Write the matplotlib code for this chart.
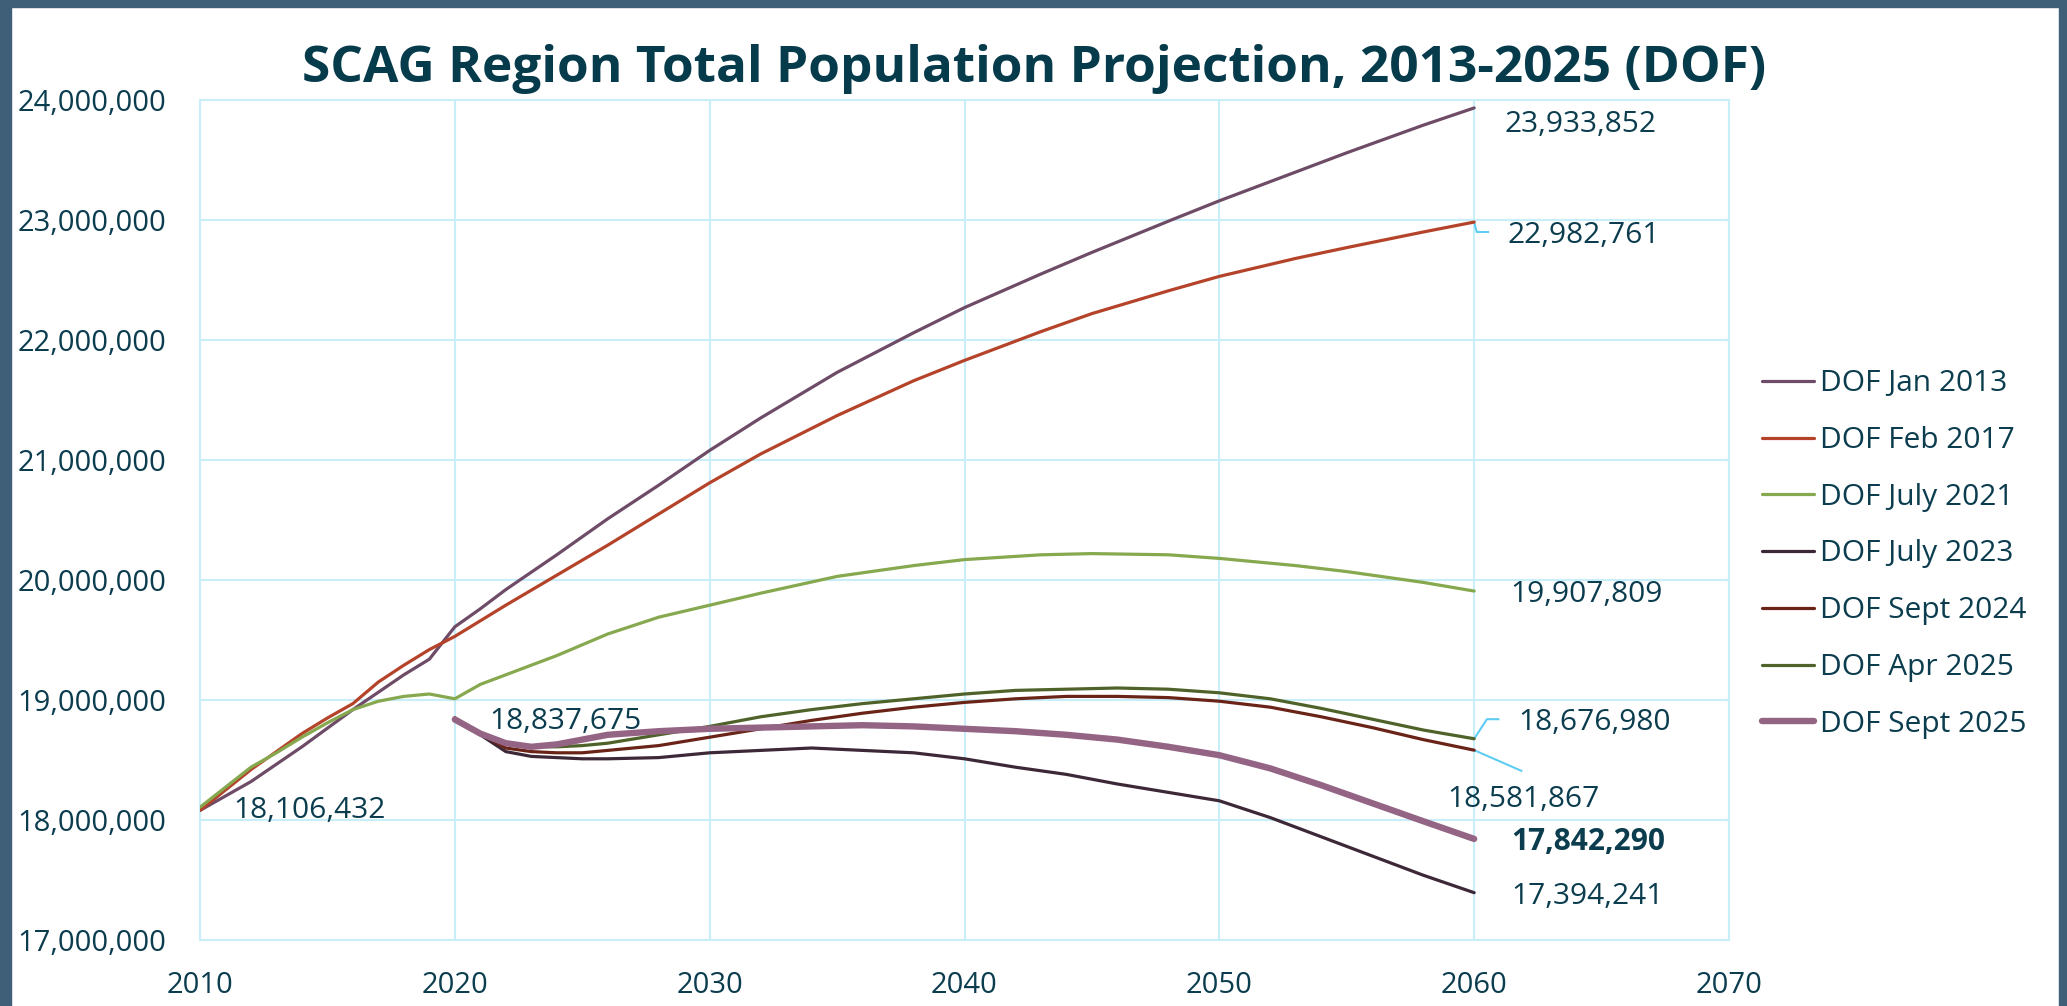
import numpy as np
import matplotlib.pyplot as plt
from matplotlib.patches import Rectangle
from matplotlib.ticker import FuncFormatter

plt.rcParams['font.family'] = ['Open Sans', 'DejaVu Sans']

TEXT = '#0B3D4F'
GRID = '#C8EEFA'
LEADER = '#5FCDF2'
BORDER = '#3F5F78'

# values in millions
years_jan_2013 = [2010, 2012, 2014, 2016, 2018, 2019, 2020, 2021, 2022, 2024, 2026, 2028,
                  2030, 2032, 2035, 2038, 2040, 2043, 2045, 2048, 2050, 2053, 2055, 2058, 2060]
jan_2013 = [18.08, 18.32, 18.61, 18.92, 19.21, 19.34, 19.61, 19.76, 19.92, 20.21, 20.51, 20.79,
            21.08, 21.35, 21.73, 22.06, 22.27, 22.55, 22.73, 22.99, 23.16, 23.40, 23.56, 23.79, 23.933852]

years_feb_2017 = [2010, 2012, 2013, 2014, 2015, 2016, 2017, 2018, 2019, 2020, 2022, 2024,
                  2026, 2028, 2030, 2032, 2035, 2038, 2040, 2043, 2045, 2048, 2050, 2053, 2055,
                  2058, 2060]
feb_2017 = [18.08, 18.42, 18.57, 18.72, 18.85, 18.97, 19.15, 19.29, 19.42, 19.53, 19.79, 20.04,
            20.29, 20.55, 20.81, 21.05, 21.37, 21.66, 21.83, 22.07, 22.22, 22.41, 22.53, 22.68, 22.77,
            22.90, 22.982761]

years_jul_2021 = [2010, 2012, 2013, 2014, 2015, 2016, 2017, 2018, 2019, 2020, 2021, 2022,
                  2024, 2026, 2028, 2030, 2032, 2035, 2038, 2040, 2043, 2045, 2048, 2050, 2053,
                  2055, 2058, 2060]
jul_2021 = [18.106432, 18.44, 18.56, 18.69, 18.81, 18.92, 18.99, 19.03, 19.05, 19.01, 19.13, 19.21,
            19.37, 19.55, 19.69, 19.79, 19.89, 20.03, 20.12, 20.17, 20.21, 20.22, 20.21, 20.18, 20.12,
            20.07, 19.98, 19.907809]

years_late = [2020, 2021, 2022, 2023, 2024, 2025, 2026, 2028, 2030, 2032, 2034, 2036, 2038,
              2040, 2042, 2044, 2046, 2048, 2050, 2052, 2054, 2056, 2058, 2060]
jul_2023 = [18.85, 18.71, 18.57, 18.53, 18.52, 18.51, 18.51, 18.52, 18.56, 18.58, 18.60, 18.58, 18.56,
            18.51, 18.44, 18.38, 18.30, 18.23, 18.16, 18.02, 17.86, 17.70, 17.54, 17.394241]
sep_2024 = [18.85, 18.72, 18.60, 18.57, 18.56, 18.56, 18.58, 18.62, 18.69, 18.76, 18.83, 18.89, 18.94,
            18.98, 19.01, 19.03, 19.03, 19.02, 18.99, 18.94, 18.86, 18.77, 18.67, 18.581867]
apr_2025 = [18.85, 18.72, 18.64, 18.61, 18.61, 18.62, 18.64, 18.71, 18.78, 18.86, 18.92, 18.97, 19.01,
            19.05, 19.08, 19.09, 19.10, 19.09, 19.06, 19.01, 18.93, 18.84, 18.75, 18.676980]
sep_2025 = [18.837675, 18.72, 18.64, 18.61, 18.63, 18.67, 18.71, 18.74, 18.76, 18.77, 18.78, 18.79, 18.78,
            18.76, 18.74, 18.71, 18.67, 18.61, 18.54, 18.43, 18.29, 18.14, 17.99, 17.842290]

series = [
    ('DOF Jan 2013', years_jan_2013, jan_2013, '#6E4B66', 2.3),
    ('DOF Feb 2017', years_feb_2017, feb_2017, '#B4432A', 2.3),
    ('DOF July 2021', years_jul_2021, jul_2021, '#86A84E', 2.3),
    ('DOF July 2023', years_late, jul_2023, '#3D2838', 2.3),
    ('DOF Sept 2024', years_late, sep_2024, '#6A2417', 2.3),
    ('DOF Apr 2025', years_late, apr_2025, '#4F6229', 2.3),
    ('DOF Sept 2025', years_late, sep_2025, '#946485', 4.6),
]

fig = plt.figure(figsize=(20.67, 10.06), dpi=100)
fig.patch.set_facecolor('white')
for r in [(0, 0, 11 / 2067, 1), (0, 1 - 7 / 1006, 1, 7 / 1006), (2059 / 2067, 0, 8 / 2067, 1)]:
    fig.patches.append(Rectangle(r[:2], r[2], r[3], transform=fig.transFigure, color=BORDER, zorder=0))

ax = fig.add_axes([200 / 2067, 66 / 1006, 1529 / 2067, 840 / 1006])

for name, x, y, c, lw in series:
    ax.plot(x, np.array(y) * 1e6, color=c, lw=lw, label=name,
            solid_capstyle='round', solid_joinstyle='round', zorder=3)

ax.set_xlim(2010, 2070)
ax.set_ylim(17e6, 24e6)
ax.set_xticks(range(2010, 2071, 10))
ax.set_yticks(np.arange(17e6, 24.1e6, 1e6))
ax.yaxis.set_major_formatter(FuncFormatter(lambda v, p: f'{v:,.0f}'))
ax.grid(True, color=GRID, lw=1.5, zorder=0)
for s in ax.spines.values():
    s.set_color(GRID)
    s.set_linewidth(1.5)
ax.tick_params(axis='both', length=0, labelsize=21, labelcolor=TEXT)
ax.tick_params(axis='y', pad=24)
ax.tick_params(axis='x', pad=22)

# data labels
def lab(x, y, v, bold=False):
    ax.text(x, y * 1e6, f'{v * 1e6:,.0f}', fontsize=21.5, color=TEXT, va='center', ha='left',
            fontweight='bold' if bold else 'normal', zorder=4)

lab(2011.3, 18.08, jul_2021[0])
lab(2021.35, 18.82, sep_2025[0])
lab(2061.2, 23.80, jan_2013[-1])
lab(2061.3, 22.87, feb_2017[-1])
lab(2061.4, 19.88, jul_2021[-1])
lab(2061.75, 18.81, apr_2025[-1])
lab(2058.95, 18.17, sep_2024[-1])
lab(2061.45, 17.82, sep_2025[-1], bold=True)
lab(2061.45, 17.36, jul_2023[-1])

# leader lines
ax.plot([2060, 2060.1, 2060.55], [feb_2017[-1] * 1e6, 22.90e6, 22.90e6], color=LEADER, lw=1.5, zorder=2)
ax.plot([2060, 2060.5, 2060.95], [apr_2025[-1] * 1e6, 18.84e6, 18.84e6], color=LEADER, lw=1.5, zorder=2)
ax.plot([2060, 2061.85], [sep_2024[-1] * 1e6, 18.41e6], color=LEADER, lw=1.5, zorder=2)

fig.text(1034 / 2067, 1 - 82 / 1006, 'SCAG Region Total Population Projection, 2013-2025 (DOF)',
         ha='center', va='baseline', fontsize=37, fontweight='bold', color='#063B4C')

leg = ax.legend(loc='center left', bbox_to_anchor=(1762 / 2067, 1 - 554 / 1006),
                bbox_transform=fig.transFigure, frameon=False, fontsize=21.5,
                labelspacing=0.93, handlelength=1.75, handletextpad=0.2, borderpad=0,
                borderaxespad=0)
for t in leg.get_texts():
    t.set_color(TEXT)

fig.savefig('out.png', dpi=100)
